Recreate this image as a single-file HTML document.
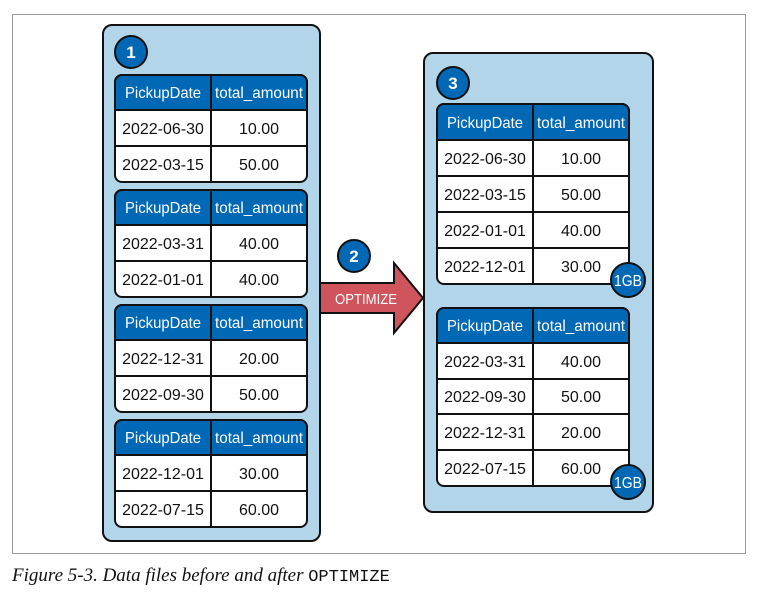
<!DOCTYPE html>
<html><head><meta charset="utf-8"><style>
html,body{margin:0;padding:0;background:#fff;width:760px;height:596px;overflow:hidden}
svg{display:block}
.h{font-family:"Liberation Sans",sans-serif;font-size:16px;fill:#fff;text-anchor:middle}
.c{font-family:"Liberation Sans",sans-serif;font-size:16px;fill:#111;text-anchor:middle}
.n{font-family:"Liberation Sans",sans-serif;font-size:17px;fill:#fff;text-anchor:middle;font-weight:bold}
</style></head><body>
<svg width="760" height="596" viewBox="0 0 760 596">
<rect x="12.5" y="14.5" width="733" height="539" fill="#fff" stroke="#999" stroke-width="1"/>
<rect x="103" y="25" width="217" height="516" rx="9" fill="#b3d5ea" stroke="#111" stroke-width="2"/>
<circle cx="131" cy="52" r="16" fill="#0068b4" stroke="#111" stroke-width="2"/><text class="n" x="131" y="58">1</text>
<rect x="424" y="53" width="229" height="459" rx="9" fill="#b3d5ea" stroke="#111" stroke-width="2"/>
<circle cx="453" cy="83" r="16" fill="#0068b4" stroke="#111" stroke-width="2"/><text class="n" x="453" y="89">3</text>

<g>
<rect x="115" y="75" width="192" height="107" rx="7" fill="#fff" stroke="#111" stroke-width="2"/>
<path d="M115 110 V82 a7 7 0 0 1 7 -7 H300 a7 7 0 0 1 7 7 V110 Z" fill="#0068b4" stroke="#111" stroke-width="2"/>
<line x1="115" y1="146" x2="307" y2="146" stroke="#111" stroke-width="2"/>
<line x1="211" y1="75" x2="211" y2="182" stroke="#111" stroke-width="2"/>
<text class="h" x="163" y="98" textLength="76" lengthAdjust="spacingAndGlyphs">PickupDate</text><text class="h" x="259" y="98" textLength="88" lengthAdjust="spacingAndGlyphs">total_amount</text>
<text class="c" x="163" y="134">2022-06-30</text><text class="c" x="259" y="134">10.00</text>
<text class="c" x="163" y="170">2022-03-15</text><text class="c" x="259" y="170">50.00</text>
</g>
<g>
<rect x="115" y="190" width="192" height="107" rx="7" fill="#fff" stroke="#111" stroke-width="2"/>
<path d="M115 225 V197 a7 7 0 0 1 7 -7 H300 a7 7 0 0 1 7 7 V225 Z" fill="#0068b4" stroke="#111" stroke-width="2"/>
<line x1="115" y1="261" x2="307" y2="261" stroke="#111" stroke-width="2"/>
<line x1="211" y1="190" x2="211" y2="297" stroke="#111" stroke-width="2"/>
<text class="h" x="163" y="213" textLength="76" lengthAdjust="spacingAndGlyphs">PickupDate</text><text class="h" x="259" y="213" textLength="88" lengthAdjust="spacingAndGlyphs">total_amount</text>
<text class="c" x="163" y="249">2022-03-31</text><text class="c" x="259" y="249">40.00</text>
<text class="c" x="163" y="285">2022-01-01</text><text class="c" x="259" y="285">40.00</text>
</g>
<g>
<rect x="115" y="305" width="192" height="107" rx="7" fill="#fff" stroke="#111" stroke-width="2"/>
<path d="M115 340 V312 a7 7 0 0 1 7 -7 H300 a7 7 0 0 1 7 7 V340 Z" fill="#0068b4" stroke="#111" stroke-width="2"/>
<line x1="115" y1="376" x2="307" y2="376" stroke="#111" stroke-width="2"/>
<line x1="211" y1="305" x2="211" y2="412" stroke="#111" stroke-width="2"/>
<text class="h" x="163" y="328" textLength="76" lengthAdjust="spacingAndGlyphs">PickupDate</text><text class="h" x="259" y="328" textLength="88" lengthAdjust="spacingAndGlyphs">total_amount</text>
<text class="c" x="163" y="364">2022-12-31</text><text class="c" x="259" y="364">20.00</text>
<text class="c" x="163" y="400">2022-09-30</text><text class="c" x="259" y="400">50.00</text>
</g>
<g>
<rect x="115" y="420" width="192" height="107" rx="7" fill="#fff" stroke="#111" stroke-width="2"/>
<path d="M115 455 V427 a7 7 0 0 1 7 -7 H300 a7 7 0 0 1 7 7 V455 Z" fill="#0068b4" stroke="#111" stroke-width="2"/>
<line x1="115" y1="491" x2="307" y2="491" stroke="#111" stroke-width="2"/>
<line x1="211" y1="420" x2="211" y2="527" stroke="#111" stroke-width="2"/>
<text class="h" x="163" y="443" textLength="76" lengthAdjust="spacingAndGlyphs">PickupDate</text><text class="h" x="259" y="443" textLength="88" lengthAdjust="spacingAndGlyphs">total_amount</text>
<text class="c" x="163" y="479">2022-12-01</text><text class="c" x="259" y="479">30.00</text>
<text class="c" x="163" y="515">2022-07-15</text><text class="c" x="259" y="515">60.00</text>
</g>

<path d="M320 283 H394 V263 L423 298 L394 333 V313 H320 Z" fill="#d0545b" stroke="#111" stroke-width="2"/>
<text x="366" y="304" textLength="62" lengthAdjust="spacingAndGlyphs" style="font-family:'Liberation Sans',sans-serif;font-size:15px;fill:#fff;text-anchor:middle">OPTIMIZE</text>
<circle cx="354" cy="256" r="16" fill="#0068b4" stroke="#111" stroke-width="2"/><text class="n" x="354" y="262">2</text>

<g>
<rect x="437" y="104" width="192" height="180" rx="7" fill="#fff" stroke="#111" stroke-width="2"/>
<path d="M437 140 V111 a7 7 0 0 1 7 -7 H622 a7 7 0 0 1 7 7 V140 Z" fill="#0068b4" stroke="#111" stroke-width="2"/>
<line x1="437" y1="176" x2="629" y2="176" stroke="#111" stroke-width="2"/>
<line x1="437" y1="212" x2="629" y2="212" stroke="#111" stroke-width="2"/>
<line x1="437" y1="248" x2="629" y2="248" stroke="#111" stroke-width="2"/>
<line x1="533" y1="104" x2="533" y2="284" stroke="#111" stroke-width="2"/>
<text class="h" x="485" y="128" textLength="76" lengthAdjust="spacingAndGlyphs">PickupDate</text><text class="h" x="581" y="128" textLength="88" lengthAdjust="spacingAndGlyphs">total_amount</text>
<text class="c" x="485" y="164">2022-06-30</text><text class="c" x="581" y="164">10.00</text>
<text class="c" x="485" y="200">2022-03-15</text><text class="c" x="581" y="200">50.00</text>
<text class="c" x="485" y="236">2022-01-01</text><text class="c" x="581" y="236">40.00</text>
<text class="c" x="485" y="272">2022-12-01</text><text class="c" x="581" y="272">30.00</text>
</g>
<circle cx="628" cy="280" r="17" fill="#0068b4" stroke="#111" stroke-width="2"/><text class="h" x="628" y="286" textLength="28" lengthAdjust="spacingAndGlyphs" style="font-size:16px">1GB</text>

<g>
<rect x="437" y="308" width="192" height="178" rx="7" fill="#fff" stroke="#111" stroke-width="2"/>
<path d="M437 343 V315 a7 7 0 0 1 7 -7 H622 a7 7 0 0 1 7 7 V343 Z" fill="#0068b4" stroke="#111" stroke-width="2"/>
<line x1="437" y1="379" x2="629" y2="379" stroke="#111" stroke-width="2"/>
<line x1="437" y1="414" x2="629" y2="414" stroke="#111" stroke-width="2"/>
<line x1="437" y1="450" x2="629" y2="450" stroke="#111" stroke-width="2"/>
<line x1="533" y1="308" x2="533" y2="486" stroke="#111" stroke-width="2"/>
<text class="h" x="485" y="331" textLength="76" lengthAdjust="spacingAndGlyphs">PickupDate</text><text class="h" x="581" y="331" textLength="88" lengthAdjust="spacingAndGlyphs">total_amount</text>
<text class="c" x="485" y="367">2022-03-31</text><text class="c" x="581" y="367">40.00</text>
<text class="c" x="485" y="402">2022-09-30</text><text class="c" x="581" y="402">50.00</text>
<text class="c" x="485" y="438">2022-12-31</text><text class="c" x="581" y="438">20.00</text>
<text class="c" x="485" y="474">2022-07-15</text><text class="c" x="581" y="474">60.00</text>
</g>
<circle cx="628" cy="482" r="17" fill="#0068b4" stroke="#111" stroke-width="2"/><text class="h" x="628" y="488" textLength="28" lengthAdjust="spacingAndGlyphs" style="font-size:16px">1GB</text>

<text x="12" y="581" style="font-family:'Liberation Serif',serif;font-style:italic;font-size:19px;fill:#111">Figure 5-3. Data files before and after <tspan style="font-family:'Liberation Mono',monospace;font-style:normal;font-size:17px">OPTIMIZE</tspan></text>
</svg>
</body></html>
